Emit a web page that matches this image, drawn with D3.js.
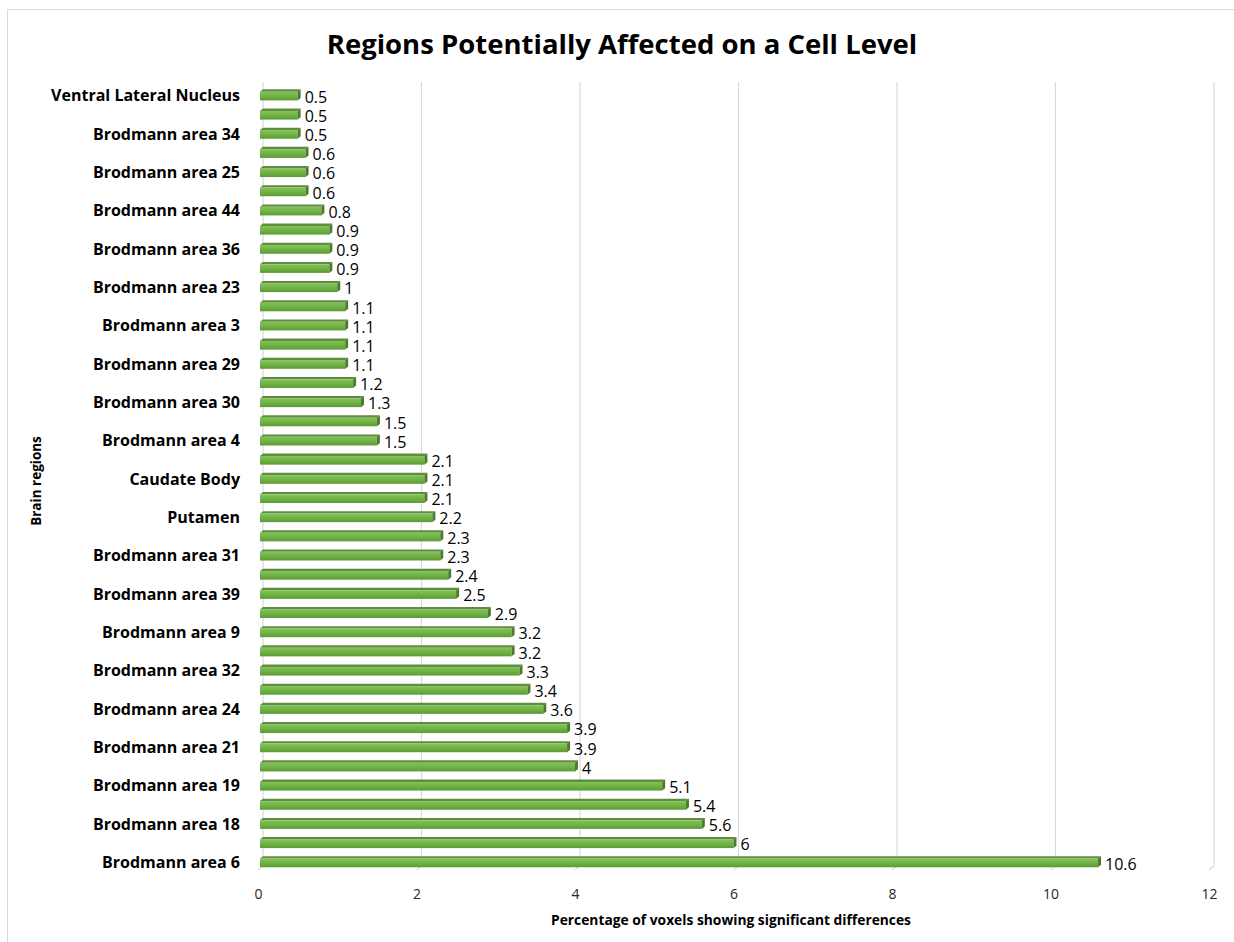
<!DOCTYPE html>
<html>
<head>
<meta charset="utf-8">
<script src="https://cdn.jsdelivr.net/npm/d3@7"></script>
<style>
  body { margin: 0; background: #fff; }
  text { font-family: "Open Sans", "Noto Sans", sans-serif; }
</style>
</head>
<body>
<div id="chart"></div>
<script>
// top to bottom; empty label = category whose name Excel skipped
const labels = [
    "Ventral Lateral Nucleus", "", "Brodmann area 34", "", "Brodmann area 25", "",
    "Brodmann area 44", "", "Brodmann area 36", "", "Brodmann area 23", "",
    "Brodmann area 3", "", "Brodmann area 29", "", "Brodmann area 30", "",
    "Brodmann area 4", "", "Caudate Body", "", "Putamen", "",
    "Brodmann area 31", "", "Brodmann area 39", "", "Brodmann area 9", "",
    "Brodmann area 32", "", "Brodmann area 24", "", "Brodmann area 21", "",
    "Brodmann area 19", "", "Brodmann area 18", "", "Brodmann area 6"
];
const values = [
    0.5, 0.5, 0.5, 0.6, 0.6, 0.6, 0.8, 0.9, 0.9, 0.9, 1, 1.1, 1.1, 1.1,
    1.1, 1.2, 1.3, 1.5, 1.5, 2.1, 2.1, 2.1, 2.2, 2.3, 2.3, 2.4, 2.5, 2.9,
    3.2, 3.2, 3.3, 3.4, 3.6, 3.9, 3.9, 4, 5.1, 5.4, 5.6, 6, 10.6
];
const xTicks = [0, 2, 4, 6, 8, 10, 12];

const W = 1234, H = 942;
const svg = d3.select("#chart").append("svg")
    .attr("width", W).attr("height", H);

const defs = svg.append("defs");
const grad = defs.append("linearGradient").attr("id", "barGrad")
    .attr("x1", 0).attr("y1", 0).attr("x2", 0).attr("y2", 1);
grad.append("stop").attr("offset", "0%").attr("stop-color", "#82c45a");
grad.append("stop").attr("offset", "55%").attr("stop-color", "#6fb043");
grad.append("stop").attr("offset", "100%").attr("stop-color", "#5c9a35");

// chart frame
svg.append("rect")
    .attr("x", 7.5).attr("y", 9.5).attr("width", W).attr("height", H)
    .attr("fill", "none").attr("stroke", "#d9d9d9");

svg.append("text")
    .attr("x", 622).attr("y", 54)
    .attr("text-anchor", "middle")
    .attr("font-size", 27.5).attr("font-weight", 700)
    .attr("fill", "#000")
    .text("Regions Potentially Affected on a Cell Level");

const x = d3.scaleLinear().domain([0, 12]).range([258, 1209]);
const y = d3.scaleBand()
    .domain(d3.range(values.length))
    .range([86, 873])
    .paddingInner(0.55).paddingOuter(0.3);

const dx = 5, dy = -4;   // depth offset of the back wall
const gridTop = 82, gridBottom = 866;

// gridlines on back wall with little floor diagonal
const grid = svg.append("g");
xTicks.forEach(t => {
    grid.append("path")
        .attr("d", `M${x(t) + dx},${gridTop} V${gridBottom} L${x(t)},${gridBottom - dy}`)
        .attr("fill", "none")
        .attr("stroke", "#d9d9d9").attr("stroke-width", 1.2);
});

// x axis labels
svg.append("g")
    .attr("transform", `translate(0,${gridBottom + 23})`)
    .call(d3.axisBottom(x).tickValues(xTicks).tickSize(0).tickPadding(0))
    .call(g => g.select(".domain").remove())
    .call(g => g.selectAll("text")
        .attr("font-family", "'Open Sans', sans-serif")
        .attr("font-size", 14).attr("fill", "#262626"));

// y axis labels
svg.append("g")
    .attr("transform", "translate(240,0)")
    .call(d3.axisLeft(y).tickFormat(i => labels[i]).tickSize(0).tickPadding(0))
    .call(g => g.select(".domain").remove())
    .call(g => g.selectAll("text")
        .attr("font-family", "'Open Sans', sans-serif")
        .attr("font-size", 16).attr("font-weight", 700).attr("fill", "#000"));

// bars: top face, front face, end cap
const bh = y.bandwidth();
const bars = svg.append("g").selectAll("g")
    .data(values)
    .join("g");

bars.append("polygon")
    .attr("points", (d, i) => {
        const y0 = y(i), x0 = x(0) + 2, x1 = x(d);
        return `${x0},${y0} ${x0 + dx * 0.6},${y0 + dy * 0.6} ${x1 + dx * 0.6},${y0 + dy * 0.6} ${x1},${y0}`;
    })
    .attr("fill", "#5f8c3e");

bars.append("rect")
    .attr("x", x(0) + 2)
    .attr("y", (d, i) => y(i))
    .attr("width", d => x(d) - x(0) - 2)
    .attr("height", bh)
    .attr("fill", "url(#barGrad)");

bars.append("polygon")
    .attr("points", (d, i) => {
        const y0 = y(i), x1 = x(d);
        return `${x1},${y0} ${x1 + dx * 0.6},${y0 + dy * 0.6} ${x1 + dx * 0.6},${y0 + bh + dy * 0.6} ${x1},${y0 + bh}`;
    })
    .attr("fill", "#4d7a2c");

// data labels
bars.append("text")
    .attr("x", d => x(d) + 7)
    .attr("y", (d, i) => y(i) + bh / 2 + 1)
    .attr("dy", "0.35em")
    .attr("font-size", 16).attr("fill", "#000")
    .text(d => d);

// axis titles
svg.append("text")
    .attr("x", 731).attr("y", 925)
    .attr("text-anchor", "middle")
    .attr("font-size", 13.8).attr("font-weight", 700)
    .text("Percentage of voxels showing significant differences");

svg.append("text")
    .attr("transform", "translate(41,481) rotate(-90)")
    .attr("text-anchor", "middle")
    .attr("font-size", 13.5).attr("font-weight", 700)
    .text("Brain regions");
</script>
</body>
</html>
